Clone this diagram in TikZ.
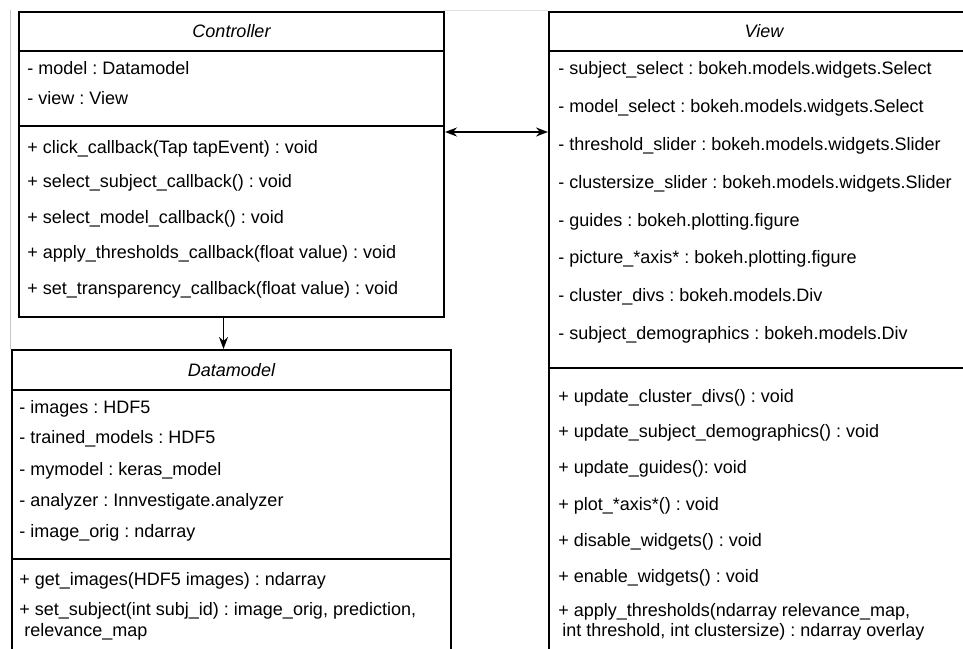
\documentclass[tikz,border=0pt]{standalone}
\usepackage{fontspec}
\setmainfont{Liberation Sans}
\usetikzlibrary{arrows.meta,positioning}
\frenchspacing

\begin{document}
\begin{tikzpicture}[x=1pt, y=-1pt, thick, >={Stealth[length=12pt,width=9pt]},
    box/.style = {draw, rectangle, line width=2pt, anchor=north west, inner sep=0pt, font=\fontsize{18}{20}\selectfont\itshape},
    member/.style = {anchor=west, inner sep=0pt, text height=12pt, text depth=3pt, font=\fontsize{18}{20}\selectfont}]
        \path[fill=white, use as bounding box] (0,0) rectangle (963,648);
        \clip (0,0) rectangle (963,648);
        % screenshot edges
        \draw[gray!45, line width=1pt] (10,10) -- (10,349);
        \draw[gray!25, line width=1pt] (443,10) -- (548,10);
        % Controller
        \node[box, minimum width=425, minimum height=39] (ctrlhead) at (18,11) {Controller};
        \node[box, minimum width=425, minimum height=75] (ctrlattr) at (18,50) {};
        \node[box, minimum width=425, minimum height=191] (ctrlops) at (18,125) {};
        \node[member] (cm1) at (27,70) {- model : Datamodel};
        \node[member] (cm2) at (27,100) {- view : View};
        \node[member] (co1) at (27,149) {+ click\_callback(Tap tapEvent) : void};
        \node[member] (co2) at (27,183) {+ select\_subject\_callback() : void};
        \node[member] (co3) at (27,219) {+ select\_model\_callback() : void};
        \node[member] (co4) at (27,254) {+ apply\_thresholds\_callback(float value) : void};
        \node[member] (co5) at (27,290) {+ set\_transparency\_callback(float value) : void};
        % Datamodel
        \node[box, minimum width=439, minimum height=40] (dmhead) at (11,349) {Datamodel};
        \node[box, minimum width=439, minimum height=169] (dmattr) at (11,389) {};
        \node[box, minimum width=439, minimum height=110] (dmops) at (11,558) {};
        \node[member] (dm1) at (19,409) {- images : HDF5};
        \node[member] (dm2) at (19,439) {- trained\_models : HDF5};
        \node[member] (dm3) at (19,471) {- mymodel : keras\_model};
        \node[member] (dm4) at (19,502) {- analyzer : Innvestigate.analyzer};
        \node[member] (dm5) at (19,533) {- image\_orig : ndarray};
        \node[member] (do1) at (19,581) {+ get\_images(HDF5 images) : ndarray};
        \node[member] (do2) at (19,611) {+ set\_subject(int subj\_id) : image\_orig, prediction,};
        \node[member] (do3) at (24,632) {relevance\_map};
        % View
        \node[box, minimum width=430, minimum height=39] (vhead) at (548,11) {View};
        \node[box, minimum width=430, minimum height=317] (vattr) at (548,50) {};
        \node[box, minimum width=430, minimum height=300] (vops) at (548,367) {};
        \node[member] (va1) at (558,70) {- subject\_select : bokeh.models.widgets.Select};
        \node[member] (va2) at (558,108) {- model\_select : bokeh.models.widgets.Select};
        \node[member] (va3) at (558,146) {- threshold\_slider : bokeh.models.widgets.Slider};
        \node[member] (va4) at (558,184) {- clustersize\_slider : bokeh.models.widgets.Slider};
        \node[member] (va5) at (558,222) {- guides : bokeh.plotting.figure};
        \node[member] (va6) at (558,259) {- picture\_*axis* : bokeh.plotting.figure};
        \node[member] (va7) at (558,297) {- cluster\_divs : bokeh.models.Div};
        \node[member] (va8) at (558,335) {- subject\_demographics : bokeh.models.Div};
        \node[member] (vo1) at (558,398) {+ update\_cluster\_divs() : void};
        \node[member] (vo2) at (558,433) {+ update\_subject\_demographics() : void};
        \node[member] (vo3) at (558,469) {+ update\_guides(): void};
        \node[member] (vo4) at (558,506) {+ plot\_*axis*() : void};
        \node[member] (vo5) at (558,542) {+ disable\_widgets() : void};
        \node[member] (vo6) at (558,578) {+ enable\_widgets() : void};
        \node[member] (vo7) at (558,612) {+ apply\_thresholds(ndarray relevance\_map,};
        \node[member] (vo8) at (562,632) {int threshold, int clustersize) : ndarray overlay};
        % links
        \draw[<->, line width=1.8pt] ([yshift=-7pt]ctrlops.north east) -- ([yshift=-7pt]ctrlops.north east -| vattr.west);
        \draw[->, line width=1.8pt] ([xshift=-8pt]ctrlops.south) -- ([xshift=-8pt]ctrlops.south |- dmhead.north);
\end{tikzpicture}
\end{document}
